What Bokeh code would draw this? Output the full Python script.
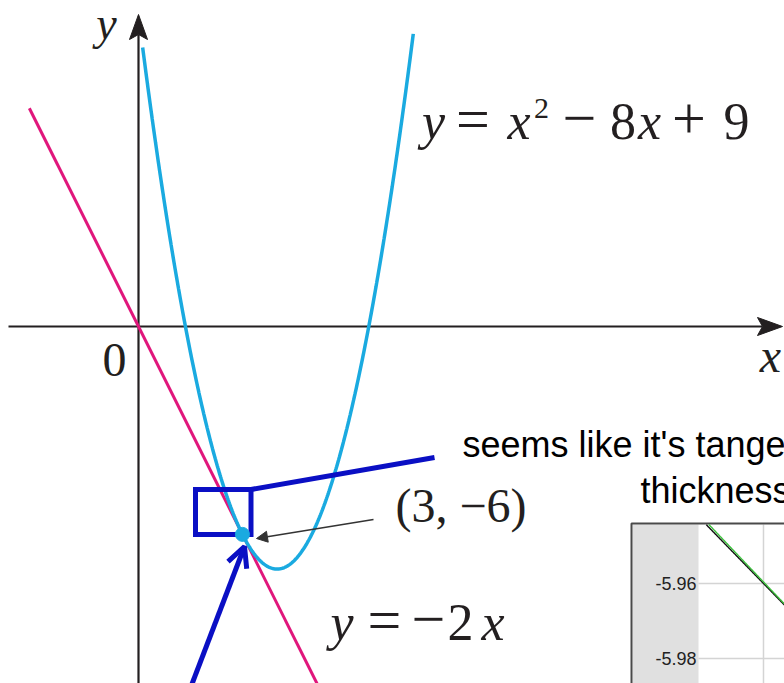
import numpy as np
from bokeh.plotting import figure
from bokeh.models import ColumnDataSource, Range1d, Arrow, NormalHead, OpenHead
from bokeh.core.properties import value
from bokeh.embed import file_html
from bokeh.resources import INLINE

# y = x^2 - 8x + 9 and its tangent y = -2x at (3, -6)
parabola_coeffs = [1, -8, 9]
parabola_x_span = [0.12, 7.93]
tangent_slope = -2
tangent_x_span = [-3.15, 5.4]
tangent_point = [3, -6]

# close-up panel around the tangent point
zoom_y_ticks = [-5.96, -5.98]
zoom_y_tick_labels = ["-5.96", "-5.98"]
zoom_x_grid = [2.98]

W, H = 784, 683
UNIT = 34.65            # pixels per unit, same on both axes
ORIGIN = (138, 326)     # pixel position of (0, 0)
LIFT = 0.36             # baseline correction, as a fraction of the font size

CYAN = "#1aaae0"
MAGENTA = "#e0177c"
BLUE = "#0a0fc4"
INK = "#231f20"
SERIF = value("Liberation Serif")
SANS = value("Liberation Sans")


def px_x(px):
    return (px - ORIGIN[0]) / UNIT


def px_y(py):
    return (ORIGIN[1] - py) / UNIT


# close-up panel scale: pixel anchor of (2.98, -5.96) and pixels per unit
Z_ANCHOR = (763, 583)
Z_SCALE = (7300, 3750)


def zx(px):
    return zoom_x_grid[0] + (px - Z_ANCHOR[0]) / Z_SCALE[0]


def zy(py):
    return zoom_y_ticks[0] - (py - Z_ANCHOR[1]) / Z_SCALE[1]


p = figure(width=W, height=H,
           x_range=Range1d(px_x(0), px_x(W)), y_range=Range1d(px_y(H), px_y(0)),
           x_axis_type=None, y_axis_type=None, output_backend="svg",
           toolbar_location=None, min_border=0, outline_line_color=None,
           background_fill_color="white", border_fill_color="white")
p.extra_x_ranges = {"zx": Range1d(zx(0), zx(W))}
p.extra_y_ranges = {"zy": Range1d(zy(H), zy(0))}
Z = dict(x_range_name="zx", y_range_name="zy")

# ---- close-up panel -------------------------------------------------------
z_left, z_plot_left, z_top = 631, 698, 523
p.quad(left=[zx(z_left + 1)], right=[zx(z_plot_left)], bottom=[zy(H + 5)], top=[zy(z_top + 1)],
       fill_color="#e0e0e0", line_color=None, **Z)
p.segment(x0=[zx(z_plot_left)] * len(zoom_y_ticks), x1=[zx(W + 5)] * len(zoom_y_ticks),
          y0=zoom_y_ticks, y1=zoom_y_ticks, line_color="#d4d4d4", line_width=1.5, **Z)
p.segment(x0=zoom_x_grid, x1=zoom_x_grid, y0=[zy(H + 5)], y1=[zy(z_top + 1)],
          line_color="#d4d4d4", line_width=1.5, **Z)
p.line([zx(z_left), zx(z_left), zx(W + 5)], [zy(H + 5), zy(z_top), zy(z_top)],
       line_color="#4a4a4a", line_width=2, **Z)
p.text(x=[zx(z_plot_left)] * len(zoom_y_ticks), y=zoom_y_ticks, text=zoom_y_tick_labels,
       x_offset=-2, text_align="right", text_baseline="middle",
       text_font=SANS, text_font_size="18px", text_color="#222222", **Z)

zxs = np.linspace(zx(z_plot_left), zx(W + 2), 400)
z_top_val = zy(z_top + 1)
line_z = tangent_slope * zxs
par_z = np.polyval(parabola_coeffs, zxs)
keep_l = line_z <= z_top_val
keep_p = par_z <= z_top_val
p.line(zxs[keep_l], line_z[keep_l], line_color="#111111", line_width=1.4, **Z)
p.line(zxs[keep_p], par_z[keep_p], line_color="#3cbf3c", line_width=1.4, **Z)

# ---- axes with arrowheads ------------------------------------------------
tip_x = px_x(782)
tip_y = px_y(14)
head_len, head_notch, head_half = 25 / UNIT, 20 / UNIT, 9 / UNIT
p.line([px_x(8), tip_x - head_notch], [0, 0], line_color=INK, line_width=2.2)
p.line([0, 0], [px_y(H + 5), tip_y - head_notch], line_color=INK, line_width=2.2)
p.patches(
    xs=[[tip_x, tip_x - head_len, tip_x - head_notch, tip_x - head_len],
        [0, head_half, 0, -head_half]],
    ys=[[0, head_half, 0, -head_half],
        [tip_y, tip_y - head_len, tip_y - head_notch, tip_y - head_len]],
    fill_color=INK, line_color=INK, line_width=1)

# ---- curves ---------------------------------------------------------------
xl = np.linspace(*tangent_x_span, 2)
p.line(xl, tangent_slope * xl, line_color=MAGENTA, line_width=3)
xp = np.linspace(*parabola_x_span, 400)
p.line(xp, np.polyval(parabola_coeffs, xp), line_color=CYAN, line_width=3.5)

# ---- blue call-out --------------------------------------------------------
p.quad(left=[px_x(195)], right=[px_x(250.5)], top=[px_y(489)], bottom=[px_y(534)],
       fill_color=None, line_color=BLUE, line_width=5, line_join="miter")
p.line([px_x(250.5), px_x(434)], [px_y(489), px_y(457)], line_color=BLUE, line_width=5)

p.scatter([tangent_point[0]], [tangent_point[1]], size=14, fill_color=CYAN, line_color=CYAN)

p.add_layout(Arrow(end=NormalHead(size=11, fill_color="#333333", line_color="#333333", line_width=1),
                   x_start=px_x(373), y_start=px_y(519), x_end=px_x(256), y_end=px_y(538),
                   line_color="#333333", line_width=1.5))
p.add_layout(Arrow(end=OpenHead(size=20, line_color=BLUE, line_width=5),
                   x_start=px_x(189), y_start=px_y(690), x_end=px_x(244), y_end=px_y(546),
                   line_color=BLUE, line_width=5))

# ---- math labels, laid out glyph by glyph ---------------------------------
rows = {"x": [], "y": [], "text": [], "style": [], "size": [], "dx": [], "dy": []}


def put(ax, ay, pieces):
    for text, style, size, dx, dy in pieces:
        rows["x"].append(px_x(ax))
        rows["y"].append(px_y(ay))
        rows["text"].append(text)
        rows["style"].append(style)
        rows["size"].append(f"{size}px")
        rows["dx"].append(dx)
        rows["dy"].append(dy - LIFT * size)


put(421, 140, [("y", "italic", 52, 12, 0), ("=", "normal", 60, 51.5, 0),
               ("x", "italic", 52, 97.5, 0), ("2", "normal", 30, 120, -21),
               ("\u2212", "normal", 60, 158, 0), ("8", "normal", 52, 201.5, 0),
               ("x", "italic", 52, 228, 0), ("+", "normal", 60, 267.5, 0),
               ("9", "normal", 52, 315, 0)])
put(330, 641, [("y", "italic", 52, 11.5, 0), ("=", "normal", 60, 54, 0),
               ("\u2212", "normal", 60, 98, 0), ("2", "normal", 52, 130, 0),
               ("x", "italic", 52, 162.5, 0)])
put(114, 377, [("0", "normal", 48, 0, 0)])
put(106, 40, [("y", "italic", 46, 0, 0)])
put(770, 372, [("x", "italic", 48, 0, 0)])

p.text(x="x", y="y", text="text", x_offset="dx", y_offset="dy",
       text_font_style="style", text_font_size="size", text_font=SERIF,
       text_align="center", text_baseline="alphabetic", text_color=INK,
       source=ColumnDataSource(rows))

p.text(x=[px_x(395)], y=[px_y(522)], text=["(3, \u22126)"], text_font=SERIF,
       y_offset=-LIFT * 48, text_font_size="48px", text_align="left",
       text_baseline="alphabetic", text_color=INK)

# ---- remark ---------------------------------------------------------------
p.text(x=[px_x(462), px_x(640)], y=[px_y(457), px_y(503)],
       text=["seems like it's tangent", "thickness"], text_font=SANS,
       y_offset=-LIFT * 36, text_font_size="36px", text_align="left",
       text_baseline="alphabetic", text_color="#000000")

open("out.html", "w").write(file_html(p, INLINE))
